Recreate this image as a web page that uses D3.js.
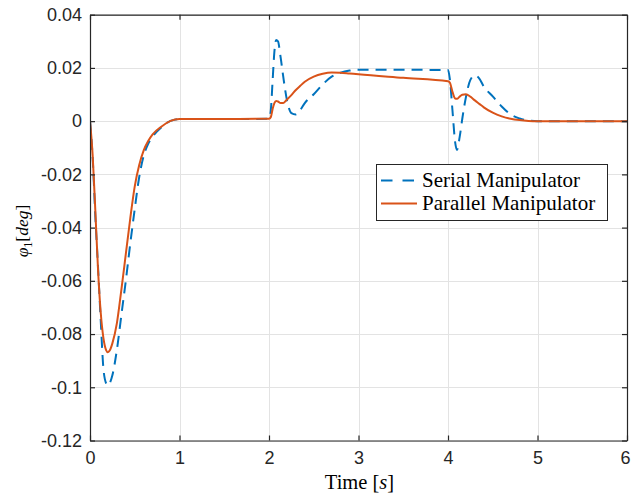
<!DOCTYPE html>
<html>
<head>
<meta charset="utf-8">
<script src="https://cdn.jsdelivr.net/npm/d3@7"></script>
<style>
  html, body { margin: 0; padding: 0; background: #fff; }
  svg { display: block; }
</style>
</head>
<body>
<svg id="chart" width="631" height="497"></svg>
<script>
// Time samples [s] (denser around the transients)
const time = [
  0, 0.03, 0.06, 0.09, 0.12, 0.15, 0.18, 0.2, 0.22, 0.25, 0.3, 0.35, 0.4, 0.45, 0.5, 0.55, 0.6, 0.65, 0.7, 0.8, 0.9, 1.0,
  1.5, 2.0, 2.02, 2.04, 2.06, 2.08, 2.1, 2.13, 2.16, 2.2, 2.25, 2.3, 2.35, 2.4, 2.5, 2.6, 2.7, 2.8, 2.9, 3.0,
  3.5, 4.0, 4.02, 4.05, 4.08, 4.1, 4.13, 4.16, 4.2, 4.25, 4.3, 4.35, 4.4, 4.5, 4.6, 4.7, 4.8, 4.9, 5.0, 5.5, 6.0
];

// Joint angle phi_1 [deg], serial manipulator
const serialValues = [
  0, -0.014, -0.036, -0.055, -0.075, -0.093, -0.0985, -0.0993, -0.0985, -0.0955, -0.086, -0.073, -0.060, -0.046, -0.033, -0.021, -0.013, -0.0085, -0.0058, -0.0022, 0.0001, 0.0008,
  0.0008, 0.0009, 0.004, 0.015, 0.026, 0.0305, 0.030, 0.024, 0.0165, 0.008, 0.003, 0.0025, 0.0042, 0.0068, 0.0101, 0.0138, 0.0167, 0.0182, 0.019, 0.0193,
  0.0193, 0.0192, 0.016, 0.004, -0.008, -0.0108, -0.006, 0.001, 0.009, 0.0155, 0.0172, 0.016, 0.013, 0.0093, 0.0055, 0.0025, 0.001, 0.0002, 0, 0, 0
];

// Joint angle phi_1 [deg], parallel manipulator
const parallelValues = [
  0, -0.013, -0.034, -0.056, -0.072, -0.0815, -0.086, -0.0868, -0.0862, -0.0835, -0.076, -0.0635, -0.050, -0.0365, -0.0245, -0.0165, -0.011, -0.0075, -0.005, -0.002, 0.0001, 0.0008,
  0.0008, 0.0009, 0.0015, 0.0045, 0.0068, 0.0076, 0.0074, 0.0068, 0.0068, 0.0081, 0.0098, 0.0117, 0.0133, 0.0148, 0.0167, 0.0178, 0.0183, 0.0182, 0.0179, 0.0176,
  0.0163, 0.0150, 0.0145, 0.011, 0.0085, 0.0084, 0.0092, 0.0099, 0.0101, 0.0092, 0.0078, 0.0065, 0.0052, 0.0032, 0.0018, 0.0009, 0.0004, 0.0001, 0, 0, 0
];

const xTicks = [0, 1, 2, 3, 4, 5, 6];
const xTickLabels = ["0", "1", "2", "3", "4", "5", "6"];
const yTicks = [0.04, 0.02, 0, -0.02, -0.04, -0.06, -0.08, -0.1, -0.12];
const yTickLabels = ["0.04", "0.02", "0", "-0.02", "-0.04", "-0.06", "-0.08", "-0.1", "-0.12"];
const seriesNames = ["Serial Manipulator", "Parallel Manipulator"];
const seriesColors = ["#0072BD", "#D95319"];

const svg = d3.select("#chart");
const plotLeft = 90, plotRight = 627, plotTop = 14.7, plotBottom = 440.5;
const axisColor = "#262626";
const sansFont = "'Liberation Sans', Arial, Helvetica, sans-serif";
const serifFont = "'Liberation Serif', 'Times New Roman', serif";

svg.append("rect").attr("width", 631).attr("height", 497).attr("fill", "#fff");

const x = d3.scaleLinear().domain([0, 6]).range([plotLeft, plotRight]);
const y = d3.scaleLinear().domain([-0.12, 0.04]).range([plotBottom, plotTop]);

// Grid
const grid = svg.append("g").attr("stroke", "#e3e3e3").attr("stroke-width", 1);
xTicks.forEach(t => grid.append("line")
  .attr("x1", Math.round(x(t)) + 0.5).attr("x2", Math.round(x(t)) + 0.5)
  .attr("y1", plotTop).attr("y2", plotBottom));
yTicks.forEach(v => grid.append("line")
  .attr("y1", Math.round(y(v)) + 0.5).attr("y2", Math.round(y(v)) + 0.5)
  .attr("x1", plotLeft).attr("x2", plotRight));

// Curves
svg.append("defs").append("clipPath").attr("id", "plotClip")
  .append("rect").attr("x", plotLeft).attr("y", plotTop)
  .attr("width", plotRight - plotLeft).attr("height", plotBottom - plotTop);

const line = d3.line()
  .x(d => x(d[0]))
  .y(d => y(d[1]))
  .curve(d3.curveMonotoneX);

const series = [serialValues, parallelValues];
const curves = svg.append("g").attr("clip-path", "url(#plotClip)");
series.forEach((vals, i) => {
  curves.append("path")
    .datum(time.map((t, k) => [t, vals[k]]))
    .attr("d", line)
    .attr("fill", "none")
    .attr("stroke", seriesColors[i])
    .attr("stroke-width", 2)
    .attr("stroke-linejoin", "round")
    .attr("stroke-dasharray", i === 0 ? "11,7" : null);
});

// Axes (ticks pointing inward on all four sides)
function styleAxis(g) {
  g.selectAll("path").attr("stroke", axisColor).attr("stroke-width", 1.2);
  g.selectAll("line").attr("stroke", axisColor).attr("stroke-width", 1.2);
  g.selectAll("text").attr("fill", axisColor).attr("font-family", sansFont).attr("font-size", 18);
}

const xAxis = d3.axisBottom(x).tickValues(xTicks).tickSize(-5).tickSizeOuter(0).tickPadding(11)
  .tickFormat((d, i) => xTickLabels[i]);
const xAxisG = svg.append("g").attr("transform", `translate(0,${plotBottom})`).call(xAxis).call(styleAxis);
// keep the last label inside the canvas
xAxisG.selectAll(".tick text").filter(d => d === 6).attr("dx", -2);

const xAxisTop = d3.axisTop(x).tickValues(xTicks).tickSize(-5).tickSizeOuter(0).tickFormat("");
svg.append("g").attr("transform", `translate(0,${plotTop})`).call(xAxisTop).call(styleAxis);

const yAxis = d3.axisLeft(y).tickValues(yTicks).tickSize(-5).tickSizeOuter(0).tickPadding(8)
  .tickFormat((d, i) => yTickLabels[i]);
svg.append("g").attr("transform", `translate(${plotLeft},0)`).call(yAxis).call(styleAxis);

const yAxisRight = d3.axisRight(y).tickValues(yTicks).tickSize(-5).tickSizeOuter(0).tickFormat("");
svg.append("g").attr("transform", `translate(${plotRight},0)`).call(yAxisRight).call(styleAxis);

// Axis titles
const xTitle = svg.append("text")
  .attr("x", (plotLeft + plotRight) / 2 + 1).attr("y", 489)
  .attr("text-anchor", "middle")
  .attr("font-family", serifFont).attr("font-size", 20.5).attr("fill", "#000");
xTitle.append("tspan").text("Time [");
xTitle.append("tspan").attr("font-style", "italic").text("s");
xTitle.append("tspan").text("]");

const yTitle = svg.append("text")
  .attr("transform", "translate(28,231) rotate(-90)")
  .attr("text-anchor", "middle")
  .attr("font-family", serifFont).attr("font-size", 17.5).attr("fill", "#000");
yTitle.append("tspan").attr("font-style", "italic").text("φ");
yTitle.append("tspan").attr("font-size", 12).attr("dy", 4).text("1");
yTitle.append("tspan").attr("dy", -4).text("[");
yTitle.append("tspan").attr("font-style", "italic").text("deg");
yTitle.append("tspan").text("]");

// Legend
const legend = svg.append("g");
legend.append("rect")
  .attr("x", 376.5).attr("y", 164.5).attr("width", 231).attr("height", 56)
  .attr("fill", "#fff").attr("stroke", axisColor).attr("stroke-width", 1);
seriesNames.forEach((name, i) => {
  const cy = 180.5 + i * 23;
  legend.append("line")
    .attr("x1", 381).attr("x2", 417).attr("y1", cy).attr("y2", cy)
    .attr("stroke", seriesColors[i]).attr("stroke-width", 2)
    .attr("stroke-dasharray", i === 0 ? "11.5,10" : null);
  legend.append("text")
    .attr("x", 422).attr("y", cy + 6.5)
    .attr("font-family", serifFont).attr("font-size", 21).attr("fill", "#000")
    .text(name);
});
</script>
</body>
</html>
